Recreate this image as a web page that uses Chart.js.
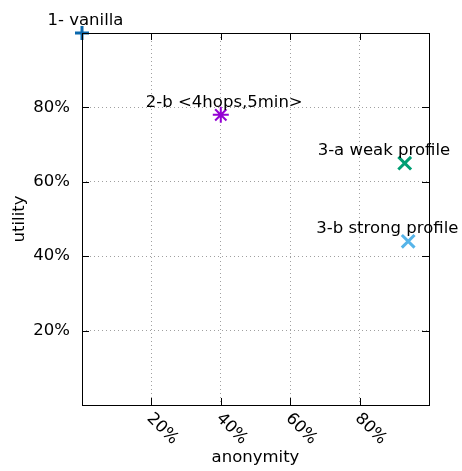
<!DOCTYPE html>
<html>
<head>
<meta charset="utf-8">
<script src="https://cdn.jsdelivr.net/npm/chart.js@4"></script>
<style>
  html, body { margin: 0; padding: 0; background: #fff; }
</style>
</head>
<body>
<canvas id="chart" width="462" height="471"></canvas>
<script>
// data (percent)
var names = ['1- vanilla', '2-b <4hops,5min>', '3-a weak profile', '3-b strong profile'];
var anonymity = [0, 40, 93, 94];
var utility = [100, 78, 65, 44];
var labelAnon = [1, 41, 87, 88];
var markers = ['cross', 'star', 'crossRot', 'crossRot'];
var colors = ['#0a68ad', '#9400d3', '#009e73', '#56b4e9'];
var tickValues = [20, 40, 60, 80];

var FONT = '16.5px "DejaVu Sans"';

var datasets = names.map(function (n, i) {
    var s = markers[i];
    return {
        label: n,
        data: [{ x: anonymity[i], y: utility[i] }],
        pointStyle: s,
        pointRadius: s == 'crossRot' ? 9 : (s == 'star' ? 8 : 7),
        pointBorderWidth: s == 'star' ? 2 : 3,
        borderColor: colors[i],
        backgroundColor: colors[i],
        clip: false
    };
});

function gridColor(c) {
    var v = c.tick.value;
    return (v == 0 || v == 100) ? 'rgba(0,0,0,0)' : '#a0a0a0';
}

var decor = {
    id: 'decor',
    afterDraw: function (chart) {
        var ctx = chart.ctx, a = chart.chartArea;
        var xs = chart.scales.x, ys = chart.scales.y;
        ctx.save();
        ctx.strokeStyle = '#000';
        ctx.lineWidth = 1;
        ctx.strokeRect(Math.round(a.left) + 0.5, Math.round(a.top) + 0.5,
            Math.round(a.right - a.left), Math.round(a.bottom - a.top));
        // inward tick marks
        ctx.beginPath();
        tickValues.forEach(function (v) {
            var px = Math.round(xs.getPixelForValue(v)) + 0.5;
            ctx.moveTo(px, a.bottom); ctx.lineTo(px, a.bottom - 7);
            ctx.moveTo(px, a.top); ctx.lineTo(px, a.top + 7);
            var py = Math.round(ys.getPixelForValue(v)) + 0.5;
            ctx.moveTo(a.left, py); ctx.lineTo(a.left + 7, py);
            ctx.moveTo(a.right, py); ctx.lineTo(a.right - 7, py);
        });
        ctx.stroke();

        ctx.fillStyle = '#000';
        ctx.font = FONT;
        // y tick labels
        ctx.textAlign = 'right';
        ctx.textBaseline = 'middle';
        tickValues.forEach(function (v) {
            ctx.fillText(v + '%', a.left - 12, ys.getPixelForValue(v));
        });
        // x tick labels, rotated
        ctx.textAlign = 'left';
        tickValues.forEach(function (v) {
            ctx.save();
            ctx.translate(xs.getPixelForValue(v) - 2, a.bottom + 11);
            ctx.rotate(Math.PI / 4);
            ctx.fillText(v + '%', 0, 0);
            ctx.restore();
        });
        // axis titles
        ctx.textAlign = 'center';
        ctx.textBaseline = 'alphabetic';
        ctx.fillText('anonymity', (a.left + a.right) / 2, 462);
        ctx.save();
        ctx.translate(24, (a.top + a.bottom) / 2);
        ctx.rotate(-Math.PI / 2);
        ctx.fillText('utility', 0, 0);
        ctx.restore();
        // point labels
        names.forEach(function (n, i) {
            ctx.fillText(n, xs.getPixelForValue(labelAnon[i]), ys.getPixelForValue(utility[i]) - 8);
        });
        ctx.restore();
    }
};

new Chart(document.getElementById('chart'), {
    type: 'scatter',
    data: { datasets: datasets },
    options: {
        responsive: false,
        animation: false,
        layout: { padding: { left: 82, right: 33, top: 33, bottom: 66 } },
        plugins: { legend: { display: false }, tooltip: { enabled: false } },
        scales: {
            x: {
                min: 0, max: 100,
                ticks: { display: false, stepSize: 20 },
                border: { display: false, dash: [1, 3] },
                grid: { drawTicks: false, color: gridColor }
            },
            y: {
                min: 0, max: 100,
                ticks: { display: false, stepSize: 20 },
                border: { display: false, dash: [1, 3] },
                grid: { drawTicks: false, color: gridColor }
            }
        }
    },
    plugins: [decor]
});
</script>
</body>
</html>
